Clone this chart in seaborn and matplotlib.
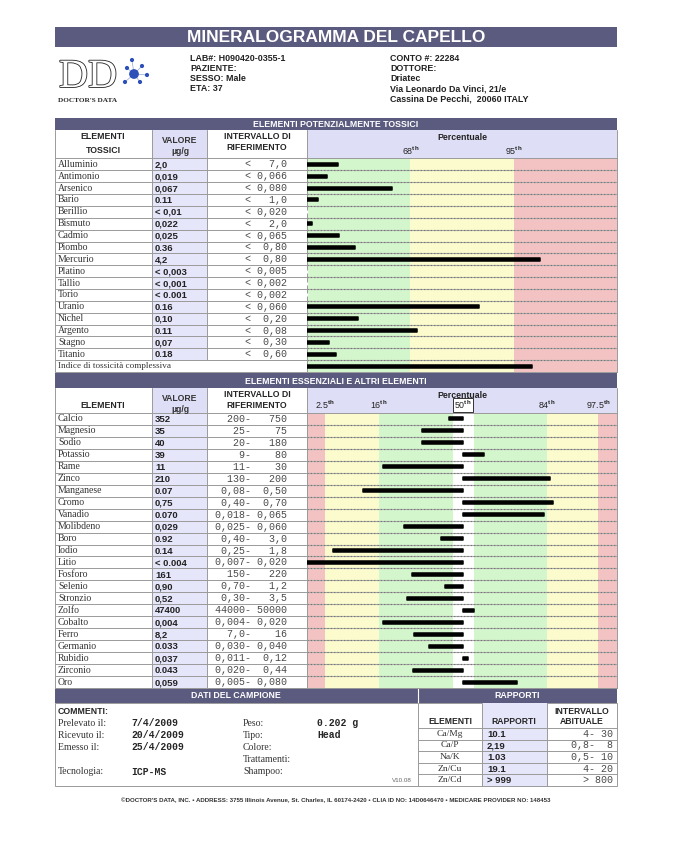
import numpy as np
import matplotlib.pyplot as plt
import matplotlib.patheffects as pe
from matplotlib.patches import Rectangle
import seaborn as sns

# ---- data ----
tox_names = ['Alluminio', 'Antimonio', 'Arsenico', 'Bario', 'Berillio', 'Bismuto',
             'Cadmio', 'Piombo', 'Mercurio', 'Platino', 'Tallio', 'Torio', 'Uranio',
             'Nichel', 'Argento', 'Stagno', 'Titanio']
tox_values = ['2,0', '0,019', '0,067', '0.11', '< 0,01', '0,022', '0,025', '0.36', '4,2',
              '< 0,003', '< 0,001', '< 0.001', '0.16', '0,10', '0.11', '0,07', '0.18']
tox_limit = ['7,0', '0,066', '0,080', '1,0', '0,020', '2,0', '0,065', '0,80', '0,80',
             '0,005', '0,002', '0,002', '0,060', '0,20', '0,08', '0,30', '0,60']
# bar length in percentile bands (1 = 68th, 2 = 95th)
tox_score = [0.30, 0.19, 0.82, 0.11, 0.0, 0.05, 0.31, 0.46, 2.25,
             0.0, 0.0, 0.0, 1.66, 0.49, 1.06, 0.21, 0.28]
tox_index_label = 'Indice di tossicità complessiva'
tox_index_score = 2.18
tox_ticks = [1, 2]
tox_tick_labels = ['68$^{th}$', '95$^{th}$']

ess_names = ['Calcio', 'Magnesio', 'Sodio', 'Potassio', 'Rame', 'Zinco', 'Manganese',
             'Cromo', 'Vanadio', 'Molibdeno', 'Boro', 'Iodio', 'Litio', 'Fosforo',
             'Selenio', 'Stronzio', 'Zolfo', 'Cobalto', 'Ferro', 'Germanio', 'Rubidio',
             'Zirconio', 'Oro']
ess_values = ['352', '35', '40', '39', '11', '210', '0.07', '0,75', '0.070', '0,029',
              '0.92', '0.14', '< 0.004', '161', '0,90', '0,52', '47400', '0,004', '8,2',
              '0.033', '0,037', '0.043', '0,059']
ess_lo = ['200', '25', '20', '9', '11', '130', '0,08', '0,40', '0,018', '0,025', '0,40',
          '0,25', '0,007', '150', '0,70', '0,30', '44000', '0,004', '7,0', '0,030',
          '0,011', '0,020', '0,005']
ess_hi = ['750', '75', '180', '80', '30', '200', '0,50', '0,70', '0,065', '0,060', '3,0',
          '1,8', '0,020', '220', '1,2', '3,5', '50000', '0,020', '16', '0,040', '0,12',
          '0,44', '0,080']
# deviation from the median, in the chart's sigma-like units
ess_score = [-0.17, -0.49, -0.49, 0.25, -0.96, 1.04, -1.20, 1.08, 0.97, -0.71, -0.26,
             -1.56, -1.87, -0.61, -0.22, -0.67, 0.13, -0.96, -0.59, -0.41, 0.06, -0.60,
             0.65]
ess_ticks = [-1.65, -1.01, 0, 1.0, 1.62]
ess_tick_labels = ['2.5$^{th}$', '16$^{th}$', '50$^{th}$', '84$^{th}$', '97.5$^{th}$']

ratio_names = ['Ca/Mg', 'Ca/P', 'Na/K', 'Zn/Cu', 'Zn/Cd']
ratio_values = ['10.1', '2,19', '1.03', '19.1', '> 999']
ratio_range = ['4- 30', '0,8-  8', '0,5- 10', '4- 20', '> 800']

sample_left = [('Prelevato il:', '7/4/2009'), ('Ricevuto il:', '20/4/2009'),
               ('Emesso il:', '25/4/2009'), ('', ''), ('Tecnologia:', 'ICP-MS')]
sample_right = [('Peso:', '0.202 g'), ('Tipo:', 'Head'), ('Colore:', ''),
                ('Trattamenti:', ''), ('Shampoo:', '')]

# ---- style ----
sns.set_style("white")
plt.rcParams['font.family'] = ['Liberation Sans', 'DejaVu Sans']
plt.rcParams['mathtext.fontset'] = 'custom'
plt.rcParams['mathtext.rm'] = 'Liberation Sans:bold'
plt.rcParams['mathtext.it'] = 'Liberation Sans:bold'
plt.rcParams['mathtext.bf'] = 'Liberation Sans:bold'
plt.rcParams['mathtext.default'] = 'rm'

BAR = '#5b5b80'
LAV = '#dedef6'
LAV2 = '#e6e6fb'
GREEN = '#d3f6cd'
YELLOW = '#fbfbcd'
RED = '#f3c3c3'
GRID = '#9a9a9a'
SERIF = ['Liberation Serif', 'DejaVu Serif']
MONO = ['Liberation Mono', 'DejaVu Sans Mono']

W, H = 698, 850
fig = plt.figure(figsize=(W / 100, H / 100), dpi=100)
bg = fig.add_axes([0, 0, 1, 1])
bg.set_xlim(0, W)
bg.set_ylim(H, 0)
bg.axis('off')


def frac(x0, y0, x1, y1):
    return [x0 / W, 1 - y1 / H, (x1 - x0) / W, (y1 - y0) / H]


def box(x0, y0, x1, y1, fc, ec='none', lw=0.7):
    bg.add_patch(Rectangle((x0, y0), x1 - x0, y1 - y0, fc=fc, ec=ec, lw=lw))


def hline(y, x0, x1, c=GRID, lw=0.7):
    bg.plot([x0, x1], [y, y], color=c, lw=lw)


def vline(x, y0, y1, c=GRID, lw=0.7):
    bg.plot([x, x], [y0, y1], color=c, lw=lw)


def txt(x, y, s, size=6.5, ha='left', **kw):
    bg.text(x, y, s, fontsize=size, ha=ha, va='center', **kw)


# ---- title + header ----
box(55, 27, 617, 47, BAR)
txt(336, 37.5, 'MINERALOGRAMMA DEL CAPELLO', 12.5, 'center', color='white', weight='bold')

bg.text(88, 87, 'DD', fontsize=29, ha='center', va='baseline', color='white',
        family=SERIF, path_effects=[pe.withStroke(linewidth=1.2, foreground='#222222')])
node = np.array([[134, 74], [127, 68], [142, 66], [140, 82], [125, 82], [147, 75], [132, 60]])
for p in node[1:]:
    bg.plot([node[0, 0], p[0]], [node[0, 1], p[1]], color='#8fa8d8', lw=0.5)
bg.scatter(node[:, 0], node[:, 1], s=[36, 4, 4, 4, 4, 4, 4], color='#2d4fb8', zorder=3)
txt(88, 100, "DOCTOR'S DATA", 5.2, 'center', weight='bold', family=SERIF)

for i, s in enumerate(['LAB#: H090420-0355-1', 'PAZIENTE:', 'SESSO: Male', 'ETA: 37']):
    txt(190, 58 + i * 10, s, 6.4, weight='bold', color='#222222')
for i, s in enumerate(['CONTO #: 22284', 'DOTTORE:', 'Driatec', 'Via Leonardo Da Vinci, 21/e',
                       'Cassina De Pecchi,  20060 ITALY']):
    txt(390, 58 + i * 10.2, s, 6.4, weight='bold', color='#222222')

# ---- table scaffolding ----
COLS = [55, 152, 207, 307, 617]


def section(y0, y1, title):
    box(55, y0, 617, y1, BAR)
    txt(336, (y0 + y1) / 2 + 0.5, title, 6.3, 'center', color='white', weight='bold')


def col_header(y0, y1, left_lines, left_y):
    box(55, y0, 152, y1, 'white')
    box(152, y0, 207, y1, LAV)
    box(207, y0, 307, y1, 'white')
    box(307, y0, 617, y1, LAV)
    for x in COLS:
        vline(x, y0, y1)
    for s, y in zip(left_lines, left_y):
        txt(103, y, s, 6.3, 'center', weight='bold')
    txt(180, y0 + 10, 'VALORE', 6.2, 'center', weight='bold', color='#333333')
    txt(180, y0 + 21, 'µg/g', 6.2, 'center', weight='bold', color='#333333')
    txt(257, y0 + 6, 'INTERVALLO DI', 6.3, 'center', weight='bold')
    txt(257, y0 + 17.5, 'RIFERIMENTO', 6.3, 'center', weight='bold')
    txt(462, y0 + 7, 'Percentuale', 6.3, 'center', weight='bold', color='#222222')


def rows_table(y0, rh, names, values, refs):
    n = len(names)
    box(152, y0, 207, y0 + n * rh, LAV2)
    for i, (nm, v, r) in enumerate(zip(names, values, refs)):
        yc = y0 + (i + 0.5) * rh
        txt(58, yc, nm, 7, family=SERIF, color='#333333')
        txt(155, yc + 0.6, v, 6.8, weight='bold', color='#222222')
        txt(287, yc, r, 7.2, 'right', family=MONO, color='#4a4a4a')
    for i in range(n + 1):
        hline(y0 + i * rh, 55, 307)
    for x in COLS[:4]:
        vline(x, y0, y0 + n * rh)


def chart(y0, y1, names, scores, bands, colors, ticks, labels, xlim):
    ax = fig.add_axes(frac(307, y0, 617, y1))
    for lo, hi, c in zip(bands[:-1], bands[1:], colors):
        ax.axvspan(lo, hi, color=c, lw=0, zorder=0)
    n = len(names)
    for i in range(n - 1):
        ax.axhline(i + 0.5, color='#a8a8a8', lw=0.8, zorder=1)
        ax.axhline(i + 0.5, color='#707070', lw=0.8, ls=(0, (1, 2)), zorder=1)
    n_before = len(ax.patches)
    sns.barplot(x=scores, y=names, orient='h', color='black', saturation=1,
                width=0.25, ax=ax, zorder=3)
    # rounded ends like the report's thick strokes
    for p in ax.patches[n_before:]:
        if abs(p.get_width()) > 0:
            p.set_edgecolor('black')
            p.set_linewidth(1.1)
            p.set_joinstyle('round')
    ax.set_xlim(*xlim)
    ax.set_ylim(n - 0.5, -0.5)
    ax.set_yticks([])
    ax.set_xlabel('')
    ax.set_ylabel('')
    ax.xaxis.tick_top()
    ax.set_xticks(ticks, labels)
    ax.tick_params(axis='x', length=0, pad=1.2, labelsize=6.4, labelcolor='#222222')
    for sp in ax.spines.values():
        sp.set_color(GRID)
        sp.set_linewidth(0.7)
    ax.patch.set_alpha(0)
    return ax


# ---- toxic section ----
section(118, 130, 'ELEMENTI POTENZIALMENTE TOSSICI')
col_header(130, 158.4, ['ELEMENTI', 'TOSSICI'], [136.5, 150.5])
rh_t = (372.1 - 158.4) / (len(tox_names) + 1)
rows_table(158.4, rh_t, tox_names, tox_values, ['< ' + f'{r:>5}' for r in tox_limit])
yi = 158.4 + len(tox_names) * rh_t
box(55, yi, 307, 372.1, 'white', GRID)
txt(58, yi + rh_t / 2, tox_index_label, 6.6, family=SERIF, color='#333333')
chart(158.4, 372.1, tox_names + ['Indice'], tox_score + [tox_index_score],
      [0, 1, 2, 3], [GREEN, YELLOW, RED], tox_ticks, tox_tick_labels, (0, 3))

# ---- essential section ----
section(373, 388, 'ELEMENTI ESSENZIALI E ALTRI ELEMENTI')
col_header(388, 413, ['ELEMENTI'], [405])
rh_e = (688 - 413) / len(ess_names)
rows_table(413, rh_e, ess_names, ess_values,
           [f'{lo:>5}- {hi:>5}' for lo, hi in zip(ess_lo, ess_hi)])
ax2 = chart(413, 688, ess_names, ess_score,
            [-1.868, -1.65, -1.01, -0.12, 0.13, 1.0, 1.62, 1.844],
            [RED, YELLOW, GREEN, 'white', GREEN, YELLOW, RED],
            ess_ticks, ess_tick_labels, (-1.868, 1.844))
for lab in ax2.get_xticklabels():
    if lab.get_text().startswith('50'):
        lab.set_bbox(dict(fc='white', ec='#333333', lw=0.7, pad=0.8))

# ---- sample data + ratios ----
box(55, 688, 418, 703, BAR)
box(418, 688, 617, 703, BAR)
vline(418, 688, 703, c='white', lw=0.8)
txt(236, 696, 'DATI DEL CAMPIONE', 6.3, 'center', color='white', weight='bold')
txt(517, 696, 'RAPPORTI', 6.3, 'center', color='white', weight='bold')

box(55, 703, 617, 786, 'none', GRID)
txt(58, 711, 'COMMENTI:', 6.3, weight='bold')
for i, ((l1, v1), (l2, v2)) in enumerate(zip(sample_left, sample_right)):
    y = 723 + i * 12.2
    txt(58, y, l1, 7, family=SERIF, color='#333333')
    txt(131, y, v1, 7, family=MONO, weight='bold')
    txt(243, y, l2, 7, family=SERIF, color='#333333')
    txt(317, y, v2, 7, family=MONO, weight='bold')
txt(412, 780, 'V10.08', 4.5, 'right', color='#666666')

box(482, 703, 547, 786, LAV2)
vline(418, 703, 786)
vline(482, 703, 786)
vline(547, 703, 786)
txt(450, 722, 'ELEMENTI', 6.2, 'center', weight='bold')
txt(514, 722, 'RAPPORTI', 6.2, 'center', weight='bold')
txt(582, 711, 'INTERVALLO', 6.2, 'center', weight='bold')
txt(582, 722, 'ABITUALE', 6.2, 'center', weight='bold')
rh_r = (786 - 728) / len(ratio_names)
for i, (nm, v, r) in enumerate(zip(ratio_names, ratio_values, ratio_range)):
    yc = 728 + (i + 0.5) * rh_r
    hline(728 + i * rh_r, 418, 617)
    txt(450, yc, nm, 6.8, 'center', family=SERIF, color='#333333')
    txt(487, yc + 0.6, v, 6.8, weight='bold', color='#222222')
    txt(613, yc, r, 7.2, 'right', family=MONO, color='#4a4a4a')

txt(336, 800, "©DOCTOR'S DATA, INC. • ADDRESS: 3755 Illinois Avenue, St. Charles, IL 60174-2420 "
    "• CLIA ID NO: 14D0646470 • MEDICARE PROVIDER NO: 148453", 4.4, 'center',
    weight='bold', color='#333333')

fig.savefig('out.png', dpi=100, facecolor='white')
